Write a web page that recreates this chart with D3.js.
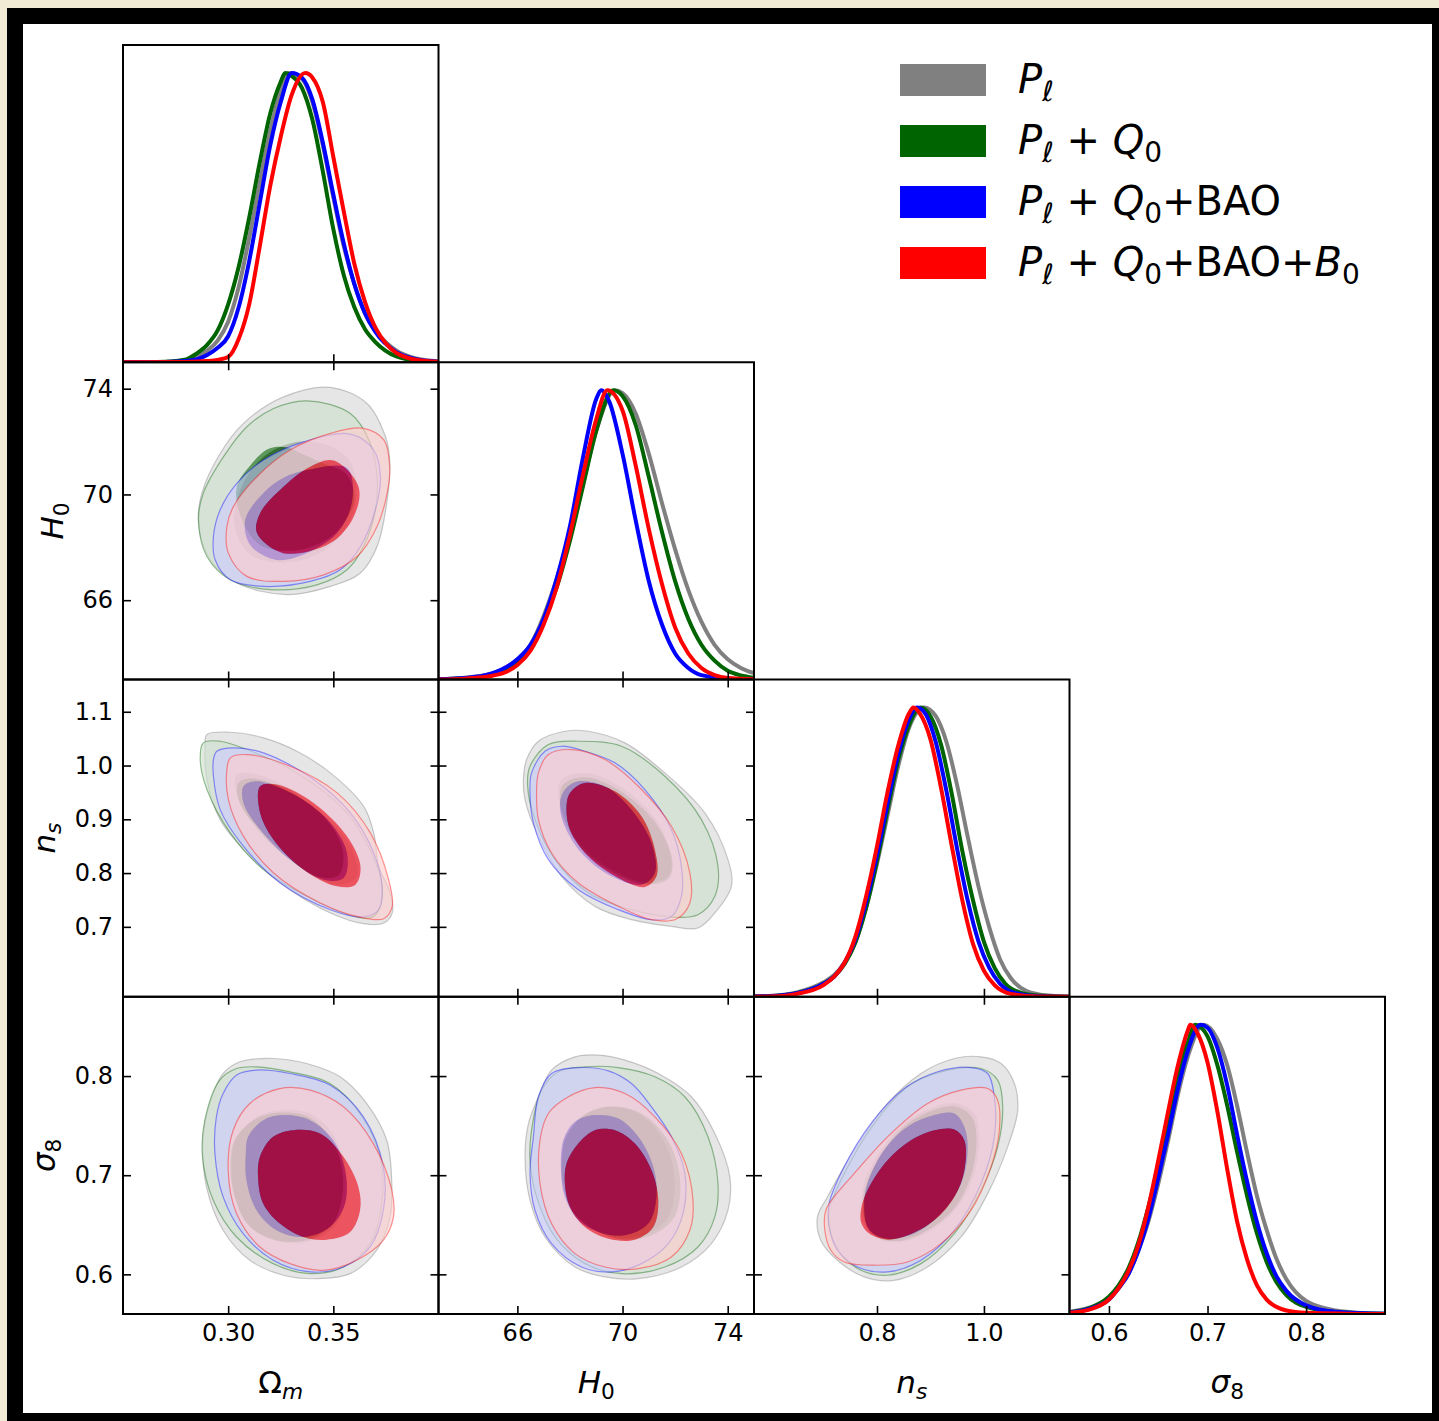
<!DOCTYPE html>
<html>
<head>
<meta charset="utf-8">
<script src="https://cdn.jsdelivr.net/npm/d3@7"></script>
<style>
  html, body { margin: 0; padding: 0; background: #f1ebd5; }
  svg { display: block; }
  text { font-family: "DejaVu Sans", sans-serif; white-space: pre; }
</style>
</head>
<body>
<svg id="chart" width="1439" height="1421"></svg>
<script>
// ---------------- data ----------------
const seriesNames = ["Pl", "Pl+Q0", "Pl+Q0+BAO", "Pl+Q0+BAO+B0"];
const seriesColors = ["#808080", "#006400", "#0000ff", "#ff0000"];

// parameters, axis ranges and tick values
const paramKeys = ["om", "h0", "ns", "s8"];
const paramDomains = [[0.25, 0.40], [63, 75], [0.57, 1.16], [0.56, 0.88]];
const xTickValues = [[0.30, 0.35], [66, 70, 74], [0.8, 1.0], [0.6, 0.7, 0.8]];
const yTickValues = [[0.30, 0.35], [66, 70, 74], [0.7, 0.8, 0.9, 1.0, 1.1], [0.6, 0.7, 0.8]];
const tickFormats = [".2f", "d", ".1f", ".1f"];

// marginalised 1D posteriors, [value, normalised density] per series (gray, green, blue, red)
const omPdf = [
  [[0.25,0],[0.27,0.001],[0.28,0.006],[0.29,0.04],[0.295,0.075],[0.30,0.14],[0.305,0.26],[0.31,0.43],[0.315,0.62],[0.32,0.80],[0.325,0.94],[0.3287,1.0],[0.335,0.98],[0.34,0.90],[0.345,0.75],[0.35,0.57],[0.355,0.40],[0.36,0.27],[0.365,0.17],[0.37,0.11],[0.38,0.04],[0.39,0.012],[0.40,0.003]],
  [[0.25,0],[0.27,0.002],[0.28,0.01],[0.285,0.03],[0.29,0.06],[0.295,0.11],[0.30,0.20],[0.305,0.33],[0.31,0.50],[0.315,0.69],[0.32,0.86],[0.325,0.97],[0.3271,1.0],[0.33,0.99],[0.335,0.95],[0.34,0.84],[0.345,0.66],[0.35,0.46],[0.355,0.30],[0.36,0.19],[0.365,0.115],[0.37,0.07],[0.38,0.02],[0.39,0.005],[0.40,0.001]],
  [[0.25,0],[0.27,0.001],[0.28,0.004],[0.29,0.025],[0.295,0.05],[0.30,0.09],[0.305,0.19],[0.31,0.35],[0.315,0.55],[0.32,0.75],[0.325,0.90],[0.3303,1.0],[0.335,0.985],[0.34,0.91],[0.345,0.76],[0.35,0.58],[0.355,0.41],[0.36,0.27],[0.365,0.17],[0.37,0.105],[0.38,0.035],[0.39,0.01],[0.40,0.002]],
  [[0.25,0],[0.28,0.001],[0.29,0.004],[0.295,0.008],[0.30,0.018],[0.305,0.08],[0.31,0.20],[0.315,0.40],[0.32,0.61],[0.325,0.78],[0.33,0.92],[0.3367,1.0],[0.34,0.985],[0.345,0.90],[0.35,0.71],[0.355,0.52],[0.36,0.34],[0.365,0.21],[0.37,0.12],[0.375,0.065],[0.38,0.032],[0.39,0.008],[0.40,0.002]]
];
const h0Pdf = [
  [[63,0.001],[64,0.006],[65,0.02],[66,0.07],[66.5,0.12],[67,0.22],[67.5,0.35],[68,0.50],[68.5,0.68],[69,0.86],[69.7,1.0],[70,0.99],[70.5,0.92],[71,0.78],[71.5,0.61],[72,0.45],[72.5,0.31],[73,0.20],[73.5,0.12],[74,0.07],[74.5,0.04],[75,0.022]],
  [[63,0.001],[64,0.004],[65,0.015],[66,0.06],[66.5,0.11],[67,0.20],[67.5,0.32],[68,0.48],[68.5,0.67],[69,0.86],[69.65,1.0],[70,0.98],[70.5,0.88],[71,0.70],[71.5,0.51],[72,0.34],[72.5,0.21],[73,0.12],[73.5,0.065],[74,0.03],[74.5,0.014],[75,0.006]],
  [[63,0.001],[64,0.005],[65,0.02],[66,0.07],[66.5,0.12],[67,0.21],[67.5,0.35],[68,0.53],[68.5,0.77],[69,0.97],[69.2,1.0],[69.5,0.96],[70,0.78],[70.5,0.55],[71,0.34],[71.5,0.19],[72,0.09],[72.5,0.04],[73,0.015],[74,0.003],[75,0]],
  [[63,0],[64,0.003],[65,0.012],[66,0.05],[66.5,0.10],[67,0.19],[67.5,0.32],[68,0.50],[68.5,0.71],[69,0.90],[69.42,1.0],[70,0.93],[70.5,0.74],[71,0.52],[71.5,0.33],[72,0.18],[72.5,0.09],[73,0.04],[73.5,0.015],[74,0.005],[75,0.001]]
];
const nsPdf = [
  [[0.57,0.001],[0.60,0.003],[0.65,0.015],[0.70,0.05],[0.72,0.075],[0.74,0.12],[0.76,0.19],[0.78,0.31],[0.80,0.46],[0.82,0.63],[0.84,0.80],[0.86,0.93],[0.888,1.0],[0.91,0.97],[0.93,0.88],[0.95,0.73],[0.97,0.55],[0.99,0.38],[1.01,0.24],[1.03,0.13],[1.05,0.065],[1.08,0.02],[1.12,0.004],[1.16,0]],
  [[0.57,0.001],[0.60,0.002],[0.65,0.012],[0.70,0.045],[0.72,0.07],[0.74,0.115],[0.76,0.19],[0.78,0.31],[0.80,0.47],[0.82,0.65],[0.84,0.82],[0.86,0.94],[0.881,1.0],[0.90,0.97],[0.92,0.87],[0.94,0.70],[0.96,0.50],[0.98,0.33],[1.00,0.19],[1.02,0.10],[1.04,0.045],[1.07,0.013],[1.10,0.004],[1.16,0]],
  [[0.57,0.001],[0.60,0.002],[0.65,0.012],[0.70,0.045],[0.72,0.07],[0.74,0.12],[0.76,0.20],[0.78,0.33],[0.80,0.49],[0.82,0.67],[0.84,0.84],[0.86,0.96],[0.875,1.0],[0.89,0.98],[0.91,0.88],[0.93,0.71],[0.95,0.51],[0.97,0.33],[0.99,0.19],[1.01,0.10],[1.03,0.045],[1.06,0.012],[1.10,0.002],[1.16,0]],
  [[0.57,0],[0.60,0.001],[0.65,0.01],[0.70,0.04],[0.72,0.07],[0.74,0.12],[0.76,0.21],[0.78,0.35],[0.80,0.52],[0.82,0.71],[0.84,0.87],[0.86,0.98],[0.868,1.0],[0.88,0.98],[0.90,0.89],[0.92,0.72],[0.94,0.52],[0.96,0.33],[0.98,0.18],[1.00,0.09],[1.02,0.04],[1.05,0.01],[1.10,0.001],[1.16,0]]
];
const s8Pdf = [
  [[0.56,0.008],[0.58,0.022],[0.60,0.055],[0.61,0.09],[0.62,0.14],[0.63,0.22],[0.64,0.32],[0.65,0.45],[0.66,0.60],[0.67,0.76],[0.68,0.89],[0.696,1.0],[0.71,0.95],[0.72,0.86],[0.73,0.72],[0.74,0.56],[0.75,0.41],[0.76,0.29],[0.77,0.19],[0.78,0.12],[0.80,0.045],[0.83,0.012],[0.86,0.003],[0.88,0.001]],
  [[0.56,0.006],[0.58,0.02],[0.60,0.06],[0.61,0.10],[0.62,0.16],[0.63,0.25],[0.64,0.37],[0.65,0.51],[0.66,0.66],[0.67,0.82],[0.68,0.94],[0.6876,1.0],[0.70,0.96],[0.71,0.86],[0.72,0.72],[0.73,0.56],[0.74,0.41],[0.75,0.28],[0.76,0.18],[0.77,0.11],[0.78,0.065],[0.80,0.025],[0.83,0.007],[0.88,0.001]],
  [[0.56,0.005],[0.58,0.018],[0.60,0.05],[0.61,0.09],[0.62,0.14],[0.63,0.22],[0.64,0.33],[0.65,0.47],[0.66,0.62],[0.67,0.78],[0.68,0.91],[0.693,1.0],[0.70,0.99],[0.71,0.92],[0.72,0.79],[0.73,0.62],[0.74,0.46],[0.75,0.32],[0.76,0.21],[0.77,0.13],[0.78,0.08],[0.80,0.03],[0.83,0.008],[0.88,0.001]],
  [[0.56,0.004],[0.58,0.015],[0.60,0.05],[0.61,0.09],[0.62,0.15],[0.63,0.24],[0.64,0.37],[0.65,0.53],[0.66,0.70],[0.67,0.86],[0.68,0.98],[0.6825,1.0],[0.69,0.97],[0.70,0.87],[0.71,0.70],[0.72,0.50],[0.73,0.32],[0.74,0.19],[0.75,0.10],[0.76,0.05],[0.78,0.012],[0.80,0.004],[0.84,0.001],[0.88,0]]
];

// 2D credible regions: outer (95%) and inner (68%) boundaries per series
const omH0_95 = [
  [[0.3486,74.05],[0.3660,73.44],[0.3748,72.18],[0.3768,71.30],[0.3756,69.79],[0.3708,68.03],[0.3629,67.03],[0.3486,66.52],[0.3280,66.21],[0.3041,66.65],[0.2914,67.53],[0.2859,68.91],[0.2875,70.05],[0.2962,71.55],[0.3073,72.69],[0.3263,73.69]],
  [[0.3375,73.54],[0.3581,73.06],[0.3676,71.93],[0.3708,70.67],[0.3700,69.42],[0.3644,68.03],[0.3565,67.15],[0.3422,66.58],[0.3200,66.40],[0.3010,66.77],[0.2899,67.65],[0.2859,69.04],[0.2882,70.05],[0.2978,71.43],[0.3089,72.56],[0.3216,73.25]],
  [[0.3581,72.28],[0.3692,71.68],[0.3724,70.67],[0.3700,69.42],[0.3629,68.03],[0.3533,67.15],[0.3390,66.71],[0.3168,66.52],[0.3010,66.77],[0.2938,67.53],[0.2930,68.41],[0.2962,69.42],[0.3041,70.42],[0.3168,71.30],[0.3359,71.99]],
  [[0.3644,72.50],[0.3740,72.06],[0.3768,71.05],[0.3756,70.05],[0.3708,68.79],[0.3613,67.65],[0.3454,66.96],[0.3263,66.71],[0.3089,66.90],[0.3001,67.78],[0.2994,68.79],[0.3025,69.54],[0.3137,70.67],[0.3295,71.68],[0.3486,72.31]]
];
const omH0_68 = [
  [[0.3327,71.99],[0.3486,71.83],[0.3581,71.23],[0.3610,70.17],[0.3571,68.85],[0.3438,67.79],[0.3262,67.42],[0.3105,67.72],[0.3029,68.85],[0.3057,70.17],[0.3162,71.38]],
  [[0.3190,71.72],[0.3280,71.78],[0.3360,71.50],[0.3460,71.15],[0.3557,70.80],[0.3600,69.79],[0.3510,68.55],[0.3343,67.91],[0.3152,68.09],[0.3057,69.23],[0.3041,70.30],[0.3100,71.05]],
  [[0.3375,70.92],[0.3565,71.00],[0.3590,69.79],[0.3518,68.54],[0.3343,67.68],[0.3224,67.53],[0.3105,68.09],[0.3081,69.04],[0.3168,70.05],[0.3262,70.62]],
  [[0.3501,71.28],[0.3620,70.29],[0.3597,69.16],[0.3486,68.16],[0.3263,67.78],[0.3137,68.54],[0.3152,69.29],[0.3263,70.29],[0.3390,71.05]]
];
const omNs_95 = [
  [[0.2899,1.0576],[0.3010,1.0619],[0.3168,1.0515],[0.3327,1.0266],[0.3486,0.9863],[0.3644,0.9242],[0.3692,0.8747],[0.3716,0.8125],[0.3771,0.7630],[0.3780,0.7258],[0.3740,0.7072],[0.3644,0.7059],[0.3486,0.7258],[0.3248,0.7816],[0.3089,0.8374],[0.2962,0.8994],[0.2899,0.9739],[0.2890,1.0358]],
  [[0.2882,1.0422],[0.2962,1.0452],[0.3089,1.0297],[0.3327,0.9863],[0.3565,0.9119],[0.3708,0.8125],[0.3732,0.7567],[0.3692,0.7194],[0.3613,0.7183],[0.3406,0.7505],[0.3168,0.8064],[0.3010,0.8747],[0.2899,0.9553],[0.2867,1.0111]],
  [[0.2946,1.0266],[0.3025,1.0329],[0.3168,1.0236],[0.3406,0.9739],[0.3581,0.9119],[0.3692,0.8374],[0.3732,0.7753],[0.3716,0.7319],[0.3644,0.7183],[0.3486,0.7319],[0.3248,0.7816],[0.3073,0.8497],[0.2962,0.9180],[0.2930,0.9800],[0.2930,1.0111]],
  [[0.3010,1.0143],[0.3089,1.0204],[0.3295,0.9986],[0.3518,0.9491],[0.3676,0.8747],[0.3763,0.7878],[0.3780,0.7381],[0.3740,0.7152],[0.3613,0.7194],[0.3438,0.7444],[0.3216,0.8002],[0.3073,0.8683],[0.3001,0.9367],[0.2994,0.9925]]
];
const omNs_68 = [
  [[0.3041,0.9832],[0.3168,0.9800],[0.3406,0.9242],[0.3581,0.8497],[0.3613,0.7939],[0.3533,0.7784],[0.3406,0.7939],[0.3200,0.8622],[0.3073,0.9180],[0.3033,0.9614]],
  [[0.3050,0.9680],[0.3120,0.9760],[0.3310,0.9480],[0.3470,0.8980],[0.3545,0.8420],[0.3525,0.7960],[0.3430,0.7930],[0.3275,0.8300],[0.3130,0.8860],[0.3050,0.9360]],
  [[0.3073,0.9614],[0.3137,0.9707],[0.3327,0.9428],[0.3486,0.8933],[0.3565,0.8374],[0.3549,0.7909],[0.3454,0.7878],[0.3295,0.8250],[0.3152,0.8808],[0.3073,0.9305]],
  [[0.3152,0.9614],[0.3232,0.9646],[0.3406,0.9305],[0.3565,0.8683],[0.3629,0.8125],[0.3605,0.7784],[0.3518,0.7753],[0.3359,0.8064],[0.3216,0.8622],[0.3152,0.9119]]
];
const h0Ns_95 = [
  [[66.35,1.0111],[66.80,1.0452],[67.81,1.0638],[68.70,1.0638],[70.09,1.0422],[71.61,0.9863],[73.13,0.9119],[74.01,0.8250],[74.14,0.7753],[73.51,0.7258],[72.87,0.6979],[71.86,0.7008],[70.34,0.7133],[68.95,0.7381],[67.68,0.7939],[66.80,0.8683],[66.29,0.9367],[66.23,0.9739]],
  [[66.48,0.9986],[67.18,1.0390],[68.32,1.0452],[69.96,1.0359],[71.61,0.9800],[73.00,0.8994],[73.63,0.8125],[73.51,0.7567],[72.87,0.7226],[71.86,0.7183],[70.34,0.7319],[68.70,0.7630],[67.43,0.8250],[66.67,0.8994],[66.39,0.9614]],
  [[66.54,0.9863],[67.05,1.0266],[67.68,1.0359],[68.57,1.0266],[69.71,1.0050],[70.85,0.9553],[71.86,0.8808],[72.24,0.8125],[72.24,0.7567],[71.86,0.7194],[71.10,0.7133],[69.84,0.7319],[68.32,0.7691],[67.18,0.8250],[66.61,0.8933],[66.48,0.9491]],
  [[66.80,0.9863],[67.18,1.0204],[68.06,1.0297],[69.33,1.0111],[70.60,0.9614],[71.86,0.8870],[72.56,0.8002],[72.56,0.7444],[72.05,0.7146],[71.10,0.7133],[69.84,0.7381],[68.32,0.7816],[67.30,0.8374],[66.80,0.8994],[66.73,0.9491]]
];
const h0Ns_68 = [
  [[67.68,0.9739],[68.70,0.9863],[70.09,0.9553],[71.36,0.8933],[71.86,0.8250],[71.74,0.7939],[70.98,0.7816],[69.84,0.8002],[68.57,0.8436],[67.81,0.8994],[67.56,0.9428]],
  [[67.75,0.9650],[68.60,0.9780],[70.00,0.9500],[71.30,0.8900],[71.90,0.8220],[71.75,0.7900],[70.95,0.7790],[69.80,0.7970],[68.55,0.8400],[67.80,0.8970],[67.62,0.9380]],
  [[67.81,0.9553],[68.32,0.9707],[69.33,0.9614],[70.34,0.9180],[71.10,0.8561],[71.23,0.8002],[70.72,0.7784],[69.58,0.7939],[68.44,0.8374],[67.75,0.8933],[67.62,0.9305]],
  [[68.00,0.9491],[68.57,0.9677],[69.71,0.9521],[70.72,0.9056],[71.23,0.8436],[71.29,0.7939],[70.85,0.7742],[69.84,0.7909],[68.70,0.8311],[68.00,0.8808],[67.87,0.9242]]
];
const omS8_95 = [
  [[0.2976,0.8026],[0.3056,0.8144],[0.3214,0.8177],[0.3373,0.8127],[0.3532,0.7993],[0.3659,0.7723],[0.3754,0.7353],[0.3778,0.6915],[0.3770,0.6579],[0.3706,0.6243],[0.3580,0.6007],[0.3420,0.5956],[0.3262,0.5991],[0.3103,0.6142],[0.2976,0.6445],[0.2897,0.6882],[0.2881,0.7387],[0.2913,0.7723]],
  [[0.2960,0.7959],[0.3040,0.8076],[0.3135,0.8093],[0.3294,0.8043],[0.3484,0.7925],[0.3627,0.7622],[0.3722,0.7185],[0.3730,0.6713],[0.3675,0.6310],[0.3548,0.6074],[0.3389,0.6007],[0.3214,0.6108],[0.3040,0.6377],[0.2929,0.6748],[0.2878,0.7185],[0.2889,0.7555]],
  [[0.2976,0.7824],[0.3040,0.8010],[0.3135,0.8060],[0.3294,0.8026],[0.3484,0.7909],[0.3643,0.7589],[0.3738,0.7084],[0.3738,0.6647],[0.3675,0.6276],[0.3548,0.6074],[0.3389,0.6024],[0.3214,0.6142],[0.3071,0.6411],[0.2976,0.6781],[0.2937,0.7218],[0.2944,0.7589]],
  [[0.3024,0.7454],[0.3103,0.7723],[0.3246,0.7874],[0.3389,0.7858],[0.3548,0.7690],[0.3690,0.7319],[0.3778,0.6849],[0.3786,0.6579],[0.3738,0.6344],[0.3611,0.6142],[0.3452,0.6041],[0.3294,0.6108],[0.3151,0.6276],[0.3040,0.6613],[0.3000,0.7051]]
];
const omS8_68 = [
  [[0.3040,0.7387],[0.3135,0.7589],[0.3246,0.7656],[0.3389,0.7622],[0.3484,0.7454],[0.3548,0.7185],[0.3563,0.6849],[0.3516,0.6512],[0.3405,0.6344],[0.3246,0.6327],[0.3103,0.6478],[0.3032,0.6781],[0.3016,0.7117]],
  [[0.3030,0.7350],[0.3125,0.7560],[0.3240,0.7630],[0.3380,0.7590],[0.3470,0.7420],[0.3530,0.7170],[0.3545,0.6840],[0.3500,0.6520],[0.3395,0.6360],[0.3240,0.6340],[0.3100,0.6490],[0.3030,0.6790],[0.3010,0.7110]],
  [[0.3095,0.7387],[0.3167,0.7555],[0.3262,0.7606],[0.3389,0.7555],[0.3500,0.7353],[0.3556,0.7051],[0.3556,0.6713],[0.3484,0.6478],[0.3357,0.6377],[0.3230,0.6445],[0.3135,0.6647],[0.3087,0.6950],[0.3084,0.7218]],
  [[0.3151,0.7185],[0.3214,0.7387],[0.3310,0.7454],[0.3437,0.7420],[0.3548,0.7185],[0.3619,0.6882],[0.3627,0.6647],[0.3580,0.6428],[0.3468,0.6350],[0.3357,0.6377],[0.3246,0.6512],[0.3167,0.6713],[0.3143,0.6950]]
];
const h0S8_95 = [
  [[66.80,0.7791],[67.30,0.8060],[68.19,0.8194],[69.08,0.8212],[70.09,0.8161],[71.36,0.8026],[72.62,0.7791],[73.51,0.7420],[74.08,0.6983],[74.01,0.6647],[73.38,0.6310],[72.24,0.6074],[70.60,0.5956],[69.33,0.5974],[68.19,0.6074],[67.05,0.6377],[66.48,0.6748],[66.29,0.7185],[66.42,0.7521]],
  [[66.54,0.7454],[66.92,0.7858],[67.56,0.8043],[68.57,0.8093],[69.84,0.8086],[71.23,0.7993],[72.37,0.7791],[73.25,0.7387],[73.63,0.6915],[73.51,0.6579],[72.87,0.6276],[71.61,0.6074],[69.96,0.6007],[68.57,0.6108],[67.43,0.6377],[66.73,0.6781],[66.48,0.7152]],
  [[66.61,0.7387],[66.80,0.7791],[67.30,0.8026],[68.19,0.8083],[69.46,0.8053],[70.34,0.7925],[71.10,0.7690],[71.86,0.7387],[72.37,0.7016],[72.30,0.6613],[71.74,0.6310],[70.72,0.6108],[69.58,0.6024],[68.44,0.6074],[67.30,0.6310],[66.67,0.6647],[66.48,0.7016]],
  [[66.86,0.7353],[67.18,0.7622],[67.94,0.7791],[68.95,0.7884],[70.09,0.7824],[71.23,0.7589],[72.24,0.7218],[72.68,0.6748],[72.56,0.6445],[71.86,0.6175],[70.60,0.6057],[69.33,0.6074],[68.19,0.6209],[67.30,0.6512],[66.86,0.6915]]
];
const h0S8_68 = [
  [[67.81,0.7387],[68.44,0.7589],[69.33,0.7690],[70.34,0.7656],[71.10,0.7521],[71.74,0.7253],[71.99,0.6882],[71.74,0.6579],[70.98,0.6411],[69.96,0.6360],[68.95,0.6445],[68.06,0.6647],[67.68,0.6950],[67.68,0.7218]],
  [[67.85,0.7380],[68.50,0.7600],[69.45,0.7690],[70.50,0.7650],[71.30,0.7500],[71.95,0.7230],[72.20,0.6870],[71.95,0.6570],[71.15,0.6400],[70.05,0.6350],[69.00,0.6440],[68.10,0.6640],[67.72,0.6950],[67.72,0.7220]],
  [[67.75,0.7353],[68.19,0.7538],[68.95,0.7606],[69.84,0.7571],[70.60,0.7387],[71.17,0.7084],[71.29,0.6781],[70.98,0.6512],[70.09,0.6394],[69.08,0.6428],[68.32,0.6546],[67.81,0.6781],[67.66,0.7051]],
  [[67.87,0.7117],[68.32,0.7319],[68.95,0.7454],[69.71,0.7454],[70.47,0.7319],[71.10,0.7051],[71.36,0.6748],[71.17,0.6478],[70.47,0.6350],[69.46,0.6360],[68.57,0.6478],[68.00,0.6680],[67.81,0.6915]]
];
const nsS8_95 = [
  [[0.6886,0.6579],[0.7073,0.6781],[0.7573,0.7253],[0.8197,0.7723],[0.8822,0.8026],[0.9446,0.8177],[0.9946,0.8194],[1.0321,0.8127],[1.0570,0.7925],[1.0632,0.7656],[1.0444,0.7286],[1.0070,0.6814],[0.9572,0.6377],[0.8946,0.6074],[0.8322,0.5940],[0.7760,0.5974],[0.7260,0.6142],[0.6949,0.6344]],
  [[0.7105,0.6647],[0.7386,0.7016],[0.7948,0.7521],[0.8571,0.7892],[0.9197,0.8043],[0.9946,0.8076],[1.0257,0.7959],[1.0351,0.7690],[1.0257,0.7286],[0.9946,0.6849],[0.9446,0.6411],[0.8822,0.6108],[0.8197,0.5991],[0.7699,0.6041],[0.7324,0.6209],[0.7123,0.6445]],
  [[0.7105,0.6713],[0.7354,0.7051],[0.7886,0.7521],[0.8510,0.7874],[0.9133,0.8043],[0.9759,0.8086],[1.0070,0.8026],[1.0195,0.7791],[1.0195,0.7387],[0.9946,0.6915],[0.9446,0.6445],[0.8822,0.6142],[0.8197,0.6024],[0.7635,0.6074],[0.7260,0.6243],[0.7105,0.6478]],
  [[0.7043,0.6647],[0.7198,0.6781],[0.7573,0.7016],[0.8197,0.7387],[0.8946,0.7723],[0.9572,0.7858],[1.0070,0.7874],[1.0257,0.7757],[1.0289,0.7454],[1.0133,0.7084],[0.9759,0.6647],[0.9197,0.6310],[0.8571,0.6125],[0.7948,0.6092],[0.7386,0.6125],[0.7137,0.6243],[0.7024,0.6445]]
];
const nsS8_68 = [
  [[0.7760,0.6915],[0.8073,0.7253],[0.8510,0.7521],[0.9071,0.7690],[0.9508,0.7723],[0.9821,0.7622],[0.9914,0.7387],[0.9821,0.7016],[0.9508,0.6680],[0.9010,0.6445],[0.8448,0.6327],[0.8009,0.6360],[0.7760,0.6512],[0.7710,0.6713]],
  [[0.7790,0.6890],[0.8100,0.7230],[0.8530,0.7500],[0.9080,0.7660],[0.9480,0.7690],[0.9770,0.7590],[0.9860,0.7370],[0.9770,0.7020],[0.9480,0.6690],[0.8990,0.6460],[0.8450,0.6340],[0.8030,0.6370],[0.7790,0.6520],[0.7740,0.6720]],
  [[0.7822,0.6915],[0.8135,0.7253],[0.8571,0.7488],[0.9071,0.7606],[0.9446,0.7622],[0.9633,0.7488],[0.9695,0.7253],[0.9572,0.6915],[0.9197,0.6613],[0.8697,0.6411],[0.8197,0.6360],[0.7854,0.6445],[0.7760,0.6680]],
  [[0.7699,0.6647],[0.7822,0.6849],[0.8197,0.7152],[0.8635,0.7353],[0.9071,0.7454],[0.9446,0.7461],[0.9633,0.7353],[0.9633,0.7051],[0.9446,0.6781],[0.9071,0.6546],[0.8571,0.6394],[0.8197,0.6350],[0.7854,0.6411],[0.7710,0.6512]]
];

// ---------------- layout ----------------
const W = 1439, H = 1421;
const X0 = 123, Y0 = 45, PW = 315.5, PH = 317.25;
const TICK = 8;
const FONT = "DejaVu Sans";

const svg = d3.select("#chart");
const defs = svg.append("defs");

// page frame
svg.append("rect").attr("width", W).attr("height", H).attr("fill", "#f1ebd5");
svg.append("rect").attr("x", 7).attr("y", 8).attr("width", W - 7).attr("height", H - 8).attr("fill", "#000");
svg.append("rect").attr("x", 23).attr("y", 24).attr("width", 1409).attr("height", 1389).attr("fill", "#fff");

const xScales = paramDomains.map((d, j) => d3.scaleLinear().domain(d).range([X0 + j * PW, X0 + (j + 1) * PW]));
const yScales = paramDomains.map((d, i) => d3.scaleLinear().domain(d).range([Y0 + (i + 1) * PH, Y0 + i * PH]));
const pdfScales = paramDomains.map((d, i) => d3.scaleLinear().domain([0, 1.097]).range([Y0 + (i + 1) * PH, Y0 + i * PH]));

const pdfs = [omPdf, h0Pdf, nsPdf, s8Pdf];
const regions = {
  "1-0": [omH0_95, omH0_68], "2-0": [omNs_95, omNs_68], "2-1": [h0Ns_95, h0Ns_68],
  "3-0": [omS8_95, omS8_68], "3-1": [h0S8_95, h0S8_68], "3-2": [nsS8_95, nsS8_68]
};

// filled regions: the first series is opaque, the ones layered on top are translucent;
// the 95% band uses a pale tint of the series colour, the 68% core the full colour
const paleColors = seriesColors.map(c => d3.interpolateRgb(c, "#ffffff")(0.8));
const fillAlpha = [1, 0.6, 0.6, 0.6];

const closedLine = d3.line().curve(d3.curveCatmullRomClosed.alpha(0.5));

function mathText(sel, parts, size) {
  let shift = 0;
  parts.forEach(p => {
    const target = p.sub ? size * 0.2 : 0;
    const ts = sel.append("tspan").text(p.t)
      .attr("dy", (target - shift).toFixed(2))
      .attr("font-size", p.sub ? size * 0.7 : size);
    if (p.it) ts.attr("font-style", "italic");
    if (p.dx) ts.attr("dx", p.dx);
    shift = target;
  });
}

function addAxis(g, axisFn, scale, ticks, fmt, labels, tx, ty) {
  const ax = axisFn(scale).tickValues(ticks).tickSize(-TICK).tickPadding(10)
    .tickFormat(labels ? d3.format(fmt) : () => "");
  const ag = g.append("g").attr("transform", `translate(${tx},${ty})`).call(ax);
  ag.attr("font-family", FONT).attr("font-size", 24);
  ag.select(".domain").remove();
  ag.selectAll(".tick line").attr("stroke", "#000").attr("stroke-width", 1.6);
  ag.selectAll(".tick text").attr("fill", "#000");
}

for (let i = 0; i < 4; i++) {
  for (let j = 0; j <= i; j++) {
    const left = X0 + j * PW, top = Y0 + i * PH;
    const g = svg.append("g");
    const cid = `clip-${i}-${j}`;
    defs.append("clipPath").attr("id", cid).append("rect")
      .attr("x", left).attr("y", top).attr("width", PW).attr("height", PH);
    const body = g.append("g").attr("clip-path", `url(#${cid})`);
    const xs = xScales[j];

    if (i === j) {
      const ys = pdfScales[i];
      const ln = d3.line().curve(d3.curveMonotoneX).x(d => xs(d[0])).y(d => ys(d[1]));
      pdfs[i].forEach((series, k) => {
        body.append("path").attr("d", ln(series)).attr("fill", "none")
          .attr("stroke", seriesColors[k]).attr("stroke-width", 4)
          .attr("stroke-linejoin", "round");
      });
      addAxis(g, d3.axisBottom, xs, xTickValues[j], tickFormats[j], i === 3, 0, top + PH);
    } else {
      const ys = yScales[i];
      const [outer, inner] = regions[`${i}-${j}`];
      const toPx = pts => pts.map(d => [xs(d[0]), ys(d[1])]);
      seriesColors.forEach((c, k) => {
        const o = closedLine(toPx(outer[k]));
        const n = closedLine(toPx(inner[k]));
        body.append("path").attr("d", o + n).attr("fill-rule", "evenodd")
          .attr("fill", paleColors[k]).attr("fill-opacity", fillAlpha[k]);
        body.append("path").attr("d", n)
          .attr("fill", c).attr("fill-opacity", fillAlpha[k]);
        body.append("path").attr("d", o).attr("fill", "none")
          .attr("stroke", c).attr("stroke-opacity", 0.4).attr("stroke-width", 1.2);
      });
      addAxis(g, d3.axisBottom, xs, xTickValues[j], tickFormats[j], i === 3, 0, top + PH);
      addAxis(g, d3.axisTop, xs, xTickValues[j], tickFormats[j], false, 0, top);
      addAxis(g, d3.axisLeft, ys, yTickValues[i], tickFormats[i], j === 0, left, 0);
      addAxis(g, d3.axisRight, ys, yTickValues[i], tickFormats[i], false, left + PW, 0);
    }
    g.append("rect").attr("x", left).attr("y", top).attr("width", PW).attr("height", PH)
      .attr("fill", "none").attr("stroke", "#000").attr("stroke-width", 2);
  }
}

// axis titles
const axisTitles = [
  [{t: "Ω"}, {t: "m", it: 1, sub: 1}],
  [{t: "H", it: 1}, {t: "0", sub: 1}],
  [{t: "n", it: 1}, {t: "s", it: 1, sub: 1}],
  [{t: "σ", it: 1}, {t: "8", sub: 1}]
];
// y titles sit a fixed gap left of the widest tick label of their row
const yTitleX = [63, 63, 55, 55];
axisTitles.forEach((parts, j) => {
  const t = svg.append("text").attr("x", X0 + (j + 0.5) * PW).attr("y", 1393)
    .attr("text-anchor", "middle").attr("font-family", FONT).attr("fill", "#000");
  mathText(t, parts, 31);
});
axisTitles.forEach((parts, i) => {
  if (i === 0) return;
  const t = svg.append("text")
    .attr("transform", `translate(${yTitleX[i]},${Y0 + (i + 0.5) * PH}) rotate(-90)`)
    .attr("text-anchor", "middle").attr("font-family", FONT).attr("fill", "#000");
  mathText(t, parts, 31);
});

// legend
const legendLabels = [
  [{t: "P", it: 1}, {t: "ℓ", it: 1, sub: 1}],
  [{t: "P", it: 1}, {t: "ℓ", it: 1, sub: 1}, {t: " + "}, {t: "Q", it: 1}, {t: "0", sub: 1}],
  [{t: "P", it: 1}, {t: "ℓ", it: 1, sub: 1}, {t: " + "}, {t: "Q", it: 1}, {t: "0", sub: 1}, {t: "+BAO"}],
  [{t: "P", it: 1}, {t: "ℓ", it: 1, sub: 1}, {t: " + "}, {t: "Q", it: 1}, {t: "0", sub: 1}, {t: "+BAO+"}, {t: "B", it: 1}, {t: "0", sub: 1}]
];
const legend = svg.append("g");
seriesColors.forEach((c, k) => {
  const y = 64 + k * 61;
  legend.append("rect").attr("x", 900).attr("y", y).attr("width", 86).attr("height", 32).attr("fill", c);
  const t = legend.append("text").attr("x", 1018).attr("y", y + 29)
    .attr("font-family", FONT).attr("fill", "#000");
  mathText(t, legendLabels[k], 40);
});
</script>
</body>
</html>
